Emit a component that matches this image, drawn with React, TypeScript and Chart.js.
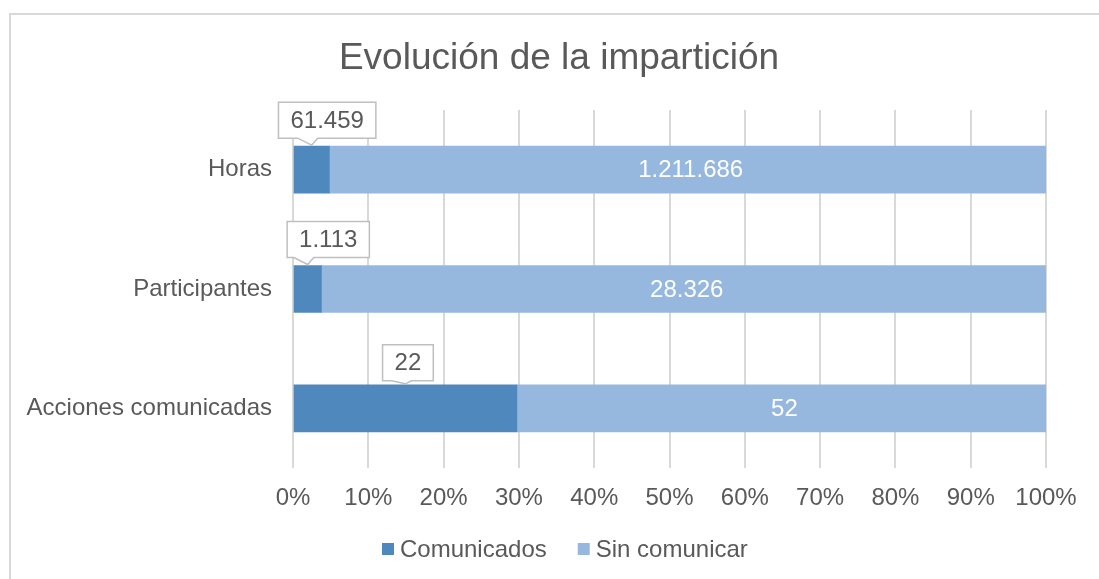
import React, { useEffect, useRef } from "react";
import { Chart, registerables } from "chart.js";

Chart.register(...registerables);

const categories = ["Horas", "Participantes", "Acciones comunicadas"];
const comunicados = [61459, 1113, 22];
const sinComunicar = [1211686, 28326, 52];
const seriesNames = ["Comunicados", "Sin comunicar"];
const xTickValues = [0, 10, 20, 30, 40, 50, 60, 70, 80, 90, 100];
const titleText = "Evolución de la impartición";

// callout placement relative to the tip (box centre shift, gap above bar)
const calloutShift = [15.5, 20.5, 2.5];
const calloutGap = [8, 8, 4];

const COLORS = ["#4F88BC", "#96B8DF"];
const TEXT = "#595959";
const FONT = "'Liberation Sans', Arial, sans-serif";

const fmt = (n: number) => String(n).replace(/\B(?=(\d{3})+(?!\d))/g, ".");

const totals = categories.map((_, i) => comunicados[i] + sinComunicar[i]);
const pctCom = comunicados.map((v, i) => (v / totals[i]) * 100);
const pctSin = sinComunicar.map((v, i) => (v / totals[i]) * 100);

const overlayPlugin = {
  id: "overlay",
  afterDatasetsDraw(chart: any) {
    const ctx = chart.ctx as CanvasRenderingContext2D;
    ctx.save();
    ctx.font = `24px ${FONT}`;
    ctx.textAlign = "center";
    ctx.textBaseline = "middle";

    // white labels inside "Sin comunicar"
    const m1 = chart.getDatasetMeta(1);
    m1.data.forEach((el: any, i: number) => {
      const cx = (el.x + el.base) / 2 + 3;
      ctx.fillStyle = "#FFFFFF";
      ctx.fillText(fmt(sinComunicar[i]), cx, el.y + 1);
    });

    // callouts for "Comunicados"
    const m0 = chart.getDatasetMeta(0);
    m0.data.forEach((el: any, i: number) => {
      const tipX = (el.x + el.base) / 2;
      const tipY = el.y - el.height / 2 - 1;
      const label = fmt(comunicados[i]);
      const tw = ctx.measureText(label).width;
      const w = tw + 24;
      const h = 36;
      const cx = tipX + calloutShift[i];
      const bottom = el.y - el.height / 2 - calloutGap[i];
      const top = bottom - h;
      const left = cx - w / 2;
      const right = cx + w / 2;
      ctx.beginPath();
      ctx.moveTo(left, top);
      ctx.lineTo(right, top);
      ctx.lineTo(right, bottom);
      ctx.lineTo(Math.min(tipX + 6, right), bottom);
      ctx.lineTo(tipX, tipY);
      ctx.lineTo(Math.max(tipX - 14, left), bottom);
      ctx.lineTo(left, bottom);
      ctx.closePath();
      ctx.fillStyle = "#FFFFFF";
      ctx.fill();
      ctx.strokeStyle = "#BFBFBF";
      ctx.lineWidth = 1.5;
      ctx.stroke();
      ctx.fillStyle = TEXT;
      ctx.fillText(label, cx, (top + bottom) / 2 + 1);
    });

    // title
    ctx.font = `37px ${FONT}`;
    ctx.fillStyle = TEXT;
    ctx.fillText(titleText, 548, 44);

    // legend
    ctx.font = `24px ${FONT}`;
    ctx.textAlign = "left";
    let x = 371;
    const ly = 534;
    seriesNames.forEach((name, i) => {
      ctx.fillStyle = COLORS[i];
      ctx.fillRect(x, ly - 6, 12, 12);
      x += 18;
      ctx.fillStyle = TEXT;
      ctx.fillText(name, x, ly + 1);
      x += ctx.measureText(name).width + 31;
    });
    ctx.restore();
  },
};

export default function App() {
  const ref = useRef<HTMLCanvasElement | null>(null);
  useEffect(() => {
    if (!ref.current) return;
    const chart = new Chart(ref.current, {
      type: "bar",
      data: {
        labels: categories,
        datasets: [
          {
            label: seriesNames[0],
            data: pctCom,
            backgroundColor: COLORS[0],
            barThickness: 47,
          },
          {
            label: seriesNames[1],
            data: pctSin,
            backgroundColor: COLORS[1],
            barThickness: 47,
          },
        ],
      },
      options: {
        indexAxis: "y",
        animation: false,
        responsive: false,
        devicePixelRatio: 1,
        layout: { padding: { top: 95, right: 53, bottom: 71, left: 0 } },
        plugins: {
          legend: { display: false },
          title: { display: false },
          tooltip: { enabled: false },
        },
        scales: {
          x: {
            stacked: true,
            min: 0,
            max: 100,
            afterBuildTicks: (axis: any) => {
              axis.ticks = xTickValues.map((v) => ({ value: v }));
            },
            afterFit: (axis: any) => {
              axis.height = 40;
            },
            grid: { color: "#D9D9D9", lineWidth: 2, drawTicks: false },
            border: { display: false },
            ticks: {
              padding: 16,
              color: TEXT,
              font: { family: FONT, size: 24 },
              callback: (v: any) => `${v}%`,
              maxRotation: 0,
              autoSkip: false,
            },
          },
          y: {
            stacked: true,
            afterFit: (axis: any) => {
              axis.width = 282;
            },
            grid: { display: false, drawTicks: false },
            border: { display: false },
            ticks: {
              padding: 21,
              color: TEXT,
              font: { family: FONT, size: 24 },
            },
          },
        },
      },
      plugins: [overlayPlugin],
    } as any);
    return () => chart.destroy();
  }, []);

  return (
    <div
      style={{
        position: "fixed",
        left: 8,
        top: 8,
        width: 1091,
        height: 571,
        overflow: "hidden",
        background: "#fff",
      }}
    >
      <div
        style={{
          position: "absolute",
          left: 1,
          top: 5,
          width: 1200,
          height: 700,
          border: "2px solid #D9D9D9",
          boxSizing: "border-box",
        }}
      />
      <canvas
        ref={ref}
        width={1088}
        height={564}
        style={{ position: "absolute", left: 3, top: 7, width: 1088, height: 564 }}
      />
    </div>
  );
}
